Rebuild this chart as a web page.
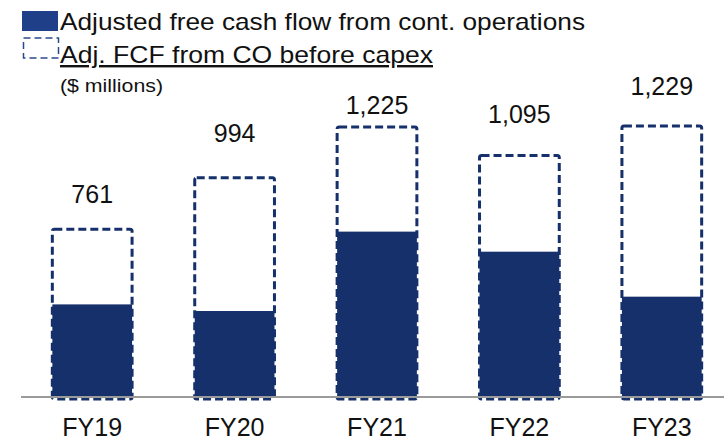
<!DOCTYPE html>
<html>
<head>
<meta charset="utf-8">
<script src="https://cdn.jsdelivr.net/npm/d3@7"></script>
<style>
  body { margin: 0; background: #fff; }
  svg { display: block; font-family: "Liberation Sans", Arial, sans-serif; }
</style>
</head>
<body>
<div id="chart"></div>
<script>
// Data
const years = ["FY19", "FY20", "FY21", "FY22", "FY23"];
const adjFcf = [420, 390, 750, 659, 455];
const fcfBeforeCapex = [761, 994, 1225, 1095, 1229];
const valueLabels = ["761", "994", "1,225", "1,095", "1,229"];

// Layout
const width = 724;
const height = 440;
const baseY = 397;
const labelLift = [26, 36, 13, 33, 31];

const navy = "#15306b";

const svg = d3
  .select("#chart")
  .append("svg")
  .attr("width", width)
  .attr("height", height);

// Scales
const xScale = d3
  .scaleBand()
  .domain(years)
  .range([21, 733])
  .paddingInner(0.44)
  .paddingOuter(0.22);

const yScale = d3
  .scaleLinear()
  .domain([0, 1300])
  .range([baseY, baseY - 1300 * 0.2205]);

// Solid bars (adjusted FCF)
svg
  .selectAll(".solid")
  .data(years)
  .enter()
  .append("rect")
  .attr("class", "solid")
  .attr("x", (d) => xScale(d))
  .attr("y", (d, i) => yScale(adjFcf[i]))
  .attr("width", xScale.bandwidth())
  .attr("height", (d, i) => yScale(0) - yScale(adjFcf[i]) + 1)
  .style("fill", navy);

// Dashed outline bars (before capex)
svg
  .selectAll(".dashed")
  .data(years)
  .enter()
  .append("rect")
  .attr("class", "dashed")
  .attr("x", (d) => xScale(d))
  .attr("y", (d, i) => yScale(fcfBeforeCapex[i]))
  .attr("width", xScale.bandwidth())
  .attr("height", (d, i) => yScale(0) - yScale(fcfBeforeCapex[i]) + 2)
  .attr("rx", 2)
  .style("fill", "none")
  .style("stroke", navy)
  .style("stroke-width", 3)
  .style("stroke-dasharray", "8,4");

// Baseline
svg
  .append("line")
  .attr("x1", 21)
  .attr("x2", width)
  .attr("y1", baseY)
  .attr("y2", baseY)
  .style("stroke", "#9a9a9a")
  .style("stroke-width", 2);

// Value labels
svg
  .selectAll(".value")
  .data(years)
  .enter()
  .append("text")
  .attr("class", "value")
  .attr("x", (d) => xScale(d) + xScale.bandwidth() / 2)
  .attr("y", (d, i) => yScale(fcfBeforeCapex[i]) - labelLift[i])
  .attr("text-anchor", "middle")
  .style("font-size", "25px")
  .style("fill", "#111")
  .text((d, i) => valueLabels[i]);

// Category labels
svg
  .selectAll(".cat")
  .data(years)
  .enter()
  .append("text")
  .attr("class", "cat")
  .attr("x", (d) => xScale(d) + xScale.bandwidth() / 2)
  .attr("y", 436)
  .attr("text-anchor", "middle")
  .style("font-size", "25px")
  .style("fill", "#111")
  .text((d) => d);

// Legend
const legend = svg.append("g").attr("id", "legend");

legend
  .append("rect")
  .attr("x", 22)
  .attr("y", 11)
  .attr("width", 36)
  .attr("height", 20)
  .style("fill", "#1f3f88");

legend
  .append("text")
  .attr("x", 60)
  .attr("y", 30)
  .attr("textLength", 525)
  .attr("lengthAdjust", "spacingAndGlyphs")
  .style("font-size", "24px")
  .style("fill", "#111")
  .text("Adjusted free cash flow from cont. operations");

legend
  .append("rect")
  .attr("x", 23.5)
  .attr("y", 38)
  .attr("width", 35)
  .attr("height", 20)
  .style("fill", "none")
  .style("stroke", "#2a4a8e")
  .style("stroke-width", 1.5)
  .style("stroke-dasharray", "7,4");

legend
  .append("text")
  .attr("x", 60)
  .attr("y", 63)
  .attr("textLength", 373)
  .attr("lengthAdjust", "spacingAndGlyphs")
  .style("font-size", "24px")
  .style("fill", "#111")
  .style("text-decoration", "underline")
  .text("Adj. FCF from CO before capex");

legend
  .append("text")
  .attr("x", 60)
  .attr("y", 92)
  .attr("textLength", 103)
  .attr("lengthAdjust", "spacingAndGlyphs")
  .style("font-size", "18px")
  .style("fill", "#111")
  .text("($ millions)");
</script>
</body>
</html>
